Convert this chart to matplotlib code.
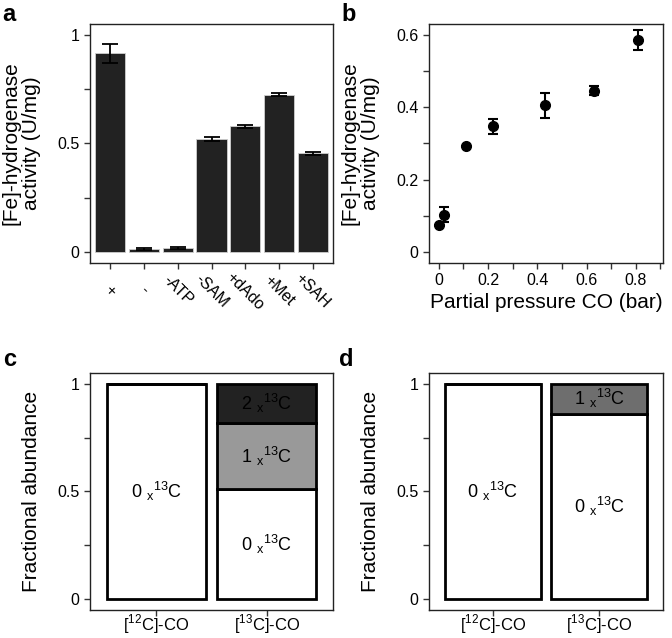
import matplotlib

matplotlib.use("Agg")
import matplotlib.pyplot as plt
import numpy as np

plt.rcParams["font.family"] = ["Liberation Sans", "DejaVu Sans"]
plt.rcParams["mathtext.fontset"] = "custom"
plt.rcParams["mathtext.rm"] = "Liberation Sans"

# panel a: activity per condition
conditions = ["+", "-", "-ATP", "-SAM", "+dAdo", "+Met", "+SAH"]
activity = [0.915, 0.015, 0.018, 0.520, 0.579, 0.725, 0.455]
activity_err = [0.043, 0.003, 0.005, 0.008, 0.008, 0.008, 0.008]

# panel b: CO partial pressure series
pressure = [0.0, 0.022, 0.11, 0.221, 0.431, 0.631, 0.811]
rate = [0.075, 0.103, 0.292, 0.347, 0.405, 0.446, 0.586]
rate_err = [0.0, 0.021, 0.0, 0.020, 0.034, 0.013, 0.027]

# panels c/d: isotope fractions
gases = ["[$^{12}$C]-CO", "[$^{13}$C]-CO"]
c_zero = [1.0, 0.51]
c_one = [0.0, 0.31]
c_two = [0.0, 0.18]
d_zero = [1.0, 0.862]
d_one = [0.0, 0.138]

LAB = "[Fe]-hydrogenase\nactivity (U/mg)"
ISO = "{} $_{{\\mathregular{{x}}}}$$^{{\\mathregular{{13}}}}$C"


def style(ax):
    for s in ax.spines.values():
        s.set_color("#222222")
        s.set_linewidth(1.0)
    ax.tick_params(direction="out", length=4, width=1, colors="#333333",
                   labelcolor="black", labelsize=11.5)


fig = plt.figure(figsize=(6.72, 6.38), dpi=100)
ax_a = fig.add_axes([0.134, 0.5878, 0.3616, 0.3746])
ax_b = fig.add_axes([0.6384, 0.5878, 0.348, 0.3746])
ax_c = fig.add_axes([0.134, 0.0445, 0.3616, 0.3704])
ax_d = fig.add_axes([0.6384, 0.0445, 0.348, 0.3704])

# a
x = np.arange(len(conditions))
ax_a.bar(x, activity, width=0.9, color="#222222", edgecolor="#cfcfcf", linewidth=0.6)
ax_a.errorbar(x, activity, yerr=activity_err, fmt="none", ecolor="black",
              elinewidth=1.3, capsize=6, capthick=1.3)
ax_a.set_xlim(-0.6, len(conditions) - 0.4)
ax_a.set_ylim(-0.05, 1.05)
ax_a.set_yticks([0, 0.25, 0.5, 0.75, 1])
ax_a.set_yticklabels(["0", "", "0.5", "", "1"])
ax_a.set_xticks(x)
ax_a.set_xticklabels(conditions, rotation=-45, ha="center", va="center", fontsize=12)
ax_a.set_ylabel(LAB, fontsize=15, linespacing=1.05, labelpad=12)
style(ax_a)
ax_a.tick_params(axis="x", pad=16)

# b
ax_b.errorbar(pressure, rate, yerr=rate_err, fmt="o", color="black", markersize=7,
              elinewidth=1.5, capsize=3.5, capthick=1.5)
ax_b.set_xlim(-0.04, 0.91)
ax_b.set_ylim(-0.03, 0.63)
ax_b.set_xticks(np.arange(0, 0.95, 0.1))
ax_b.set_xticklabels(["0", "", "0.2", "", "0.4", "", "0.6", "", "0.8", ""])
ax_b.set_yticks(np.arange(0, 0.65, 0.1))
ax_b.set_yticklabels(["0", "", "0.2", "", "0.4", "", "0.6"])
ax_b.set_ylabel(LAB, fontsize=15, linespacing=1.05, labelpad=12)
ax_b.set_xlabel("Partial pressure CO (bar)", fontsize=15, labelpad=3)
style(ax_b)


def stacked(ax, layers, colors, names):
    xs = np.arange(len(gases))
    bottom = np.zeros(len(gases))
    for vals, col, n in zip(layers, colors, names):
        vals = np.array(vals)
        ax.bar(xs, vals, bottom=bottom, width=0.9, color=col, edgecolor="black",
               linewidth=2)
        for xi, b, v in zip(xs, bottom, vals):
            if v > 0:
                ax.text(xi, b + v / 2, ISO.format(n), ha="center", va="center",
                        fontsize=13)
        bottom = bottom + vals
    ax.set_xlim(-0.6, len(gases) - 0.4)
    ax.set_ylim(-0.05, 1.05)
    ax.set_yticks([0, 0.25, 0.5, 0.75, 1])
    ax.set_yticklabels(["0", "", "0.5", "", "1"])
    ax.set_xticks(xs)
    ax.set_xticklabels(gases)
    ax.set_ylabel("Fractional abundance", fontsize=15, labelpad=12)
    style(ax)
    ax.tick_params(axis="x", pad=-2, labelsize=12)


stacked(ax_c, [c_zero, c_one, c_two], ["white", "#999999", "#222222"], [0, 1, 2])
stacked(ax_d, [d_zero, d_one], ["white", "#6e6e6e"], [0, 1])

for lab, px, py in [("a", 0.003, 0.995), ("b", 0.508, 0.995),
                    ("c", 0.005, 0.455), ("d", 0.505, 0.455)]:
    fig.text(px, py, lab, fontsize=17, fontweight="bold", ha="left", va="top")

fig.savefig("out.png", dpi=100)
